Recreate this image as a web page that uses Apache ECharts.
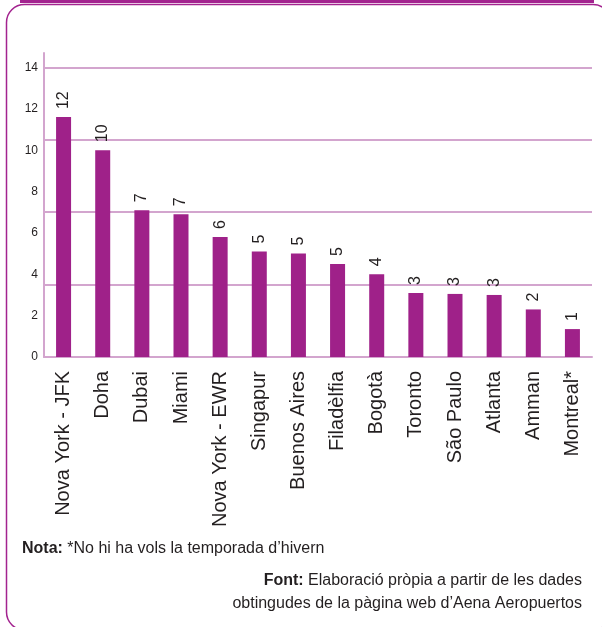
<!DOCTYPE html>
<html>
<head>
<meta charset="utf-8">
<script src="https://cdn.jsdelivr.net/npm/echarts@6/dist/echarts.min.js"></script>
<style>
  html, body { margin: 0; padding: 0; background: #fff; }
  #chart { width: 602px; height: 627px; }
</style>
</head>
<body>
<div id="chart"></div>
<script>
// destinacions i nombre de vols (llegits del gràfic)
const cities = ['Nova York - JFK', 'Doha', 'Dubai', 'Miami', 'Nova York - EWR', 'Singapur',
    'Buenos Aires', 'Filadèlfia', 'Bogotà', 'Toronto', 'São Paulo', 'Atlanta', 'Amman', 'Montreal*']
const flights = [11.6, 10, 7.1, 6.9, 5.8, 5.1, 5, 4.5, 4, 3.1, 3.05, 3, 2.3, 1.35]
const flightLabels = ['12', '10', '7', '7', '6', '5', '5', '5', '4', '3', '3', '3', '2', '1']
const yMax = 14.7

const purple = '#9f2189'
const lightPurple = '#d3a5ce'
const ink = '#231f20'
const font = 'Liberation Sans'

// text amb una part en negreta
function noteText(bold, rest, pos) {
    return Object.assign({
        type: 'text',
        style: {
            text: (bold ? '{b|' + bold + '} ' : '') + rest,
            font: '16px ' + font,
            fill: ink,
            rich: { b: { fontWeight: 'bold', fontSize: 16, fontFamily: font, fill: ink } }
        }
    }, pos)
}

const chart = echarts.init(document.getElementById('chart'))
chart.setOption({
    animation: false,
    textStyle: { fontFamily: font, color: ink },
    grid: { left: 44, right: 10, top: 53, bottom: 270, containLabel: false },
    xAxis: {
        type: 'category',
        data: cities,
        axisLine: { lineStyle: { color: lightPurple, width: 2 } },
        axisTick: { length: 16, lineStyle: { color: lightPurple, width: 2 } },
        axisLabel: { rotate: 90, fontSize: 20, color: ink, margin: 14, interval: 0, fontFamily: font }
    },
    yAxis: [{
        type: 'value',
        min: 0,
        max: yMax,
        interval: 2,
        axisLine: { show: true, lineStyle: { color: lightPurple, width: 2 } },
        axisTick: { show: false },
        splitLine: { show: false },
        axisLabel: { fontSize: 12, color: ink, margin: 6, showMaxLabel: false, fontFamily: font }
    }, {
        type: 'value',
        min: 0,
        max: yMax,
        interval: 3.5,
        position: 'left',
        axisLine: { show: false },
        axisTick: { show: false },
        axisLabel: { show: false },
        splitLine: { show: true, showMaxLine: false, lineStyle: { color: lightPurple, width: 2 } }
    }],
    series: [{
        type: 'bar',
        data: flights,
        barWidth: 15,
        itemStyle: { color: purple },
        label: {
            show: true,
            position: 'top',
            rotate: 90,
            align: 'left',
            verticalAlign: 'middle',
            distance: 8,
            fontSize: 16,
            color: ink,
            fontFamily: font,
            formatter: p => flightLabels[p.dataIndex]
        }
    }],
    graphic: [{
        type: 'rect',
        shape: { x: 6.5, y: 4.5, width: 604.5, height: 625.5, r: 18 },
        style: { fill: 'none', stroke: '#a3238f', lineWidth: 1.5 },
        z: 0
    }, {
        type: 'line',
        shape: { x1: 20, y1: 1.5, x2: 594, y2: 1.5 },
        style: { stroke: '#a3238f', lineWidth: 3 }
    },
    noteText('Nota:', '*No hi ha vols la temporada d’hivern', { left: 22, top: 541 }),
    noteText('Font:', 'Elaboració pròpia a partir de les dades', { right: 20, top: 573 }),
    noteText('', 'obtingudes de la pàgina web d’Aena Aeropuertos', { right: 20, top: 596 })
    ]
})
</script>
</body>
</html>
